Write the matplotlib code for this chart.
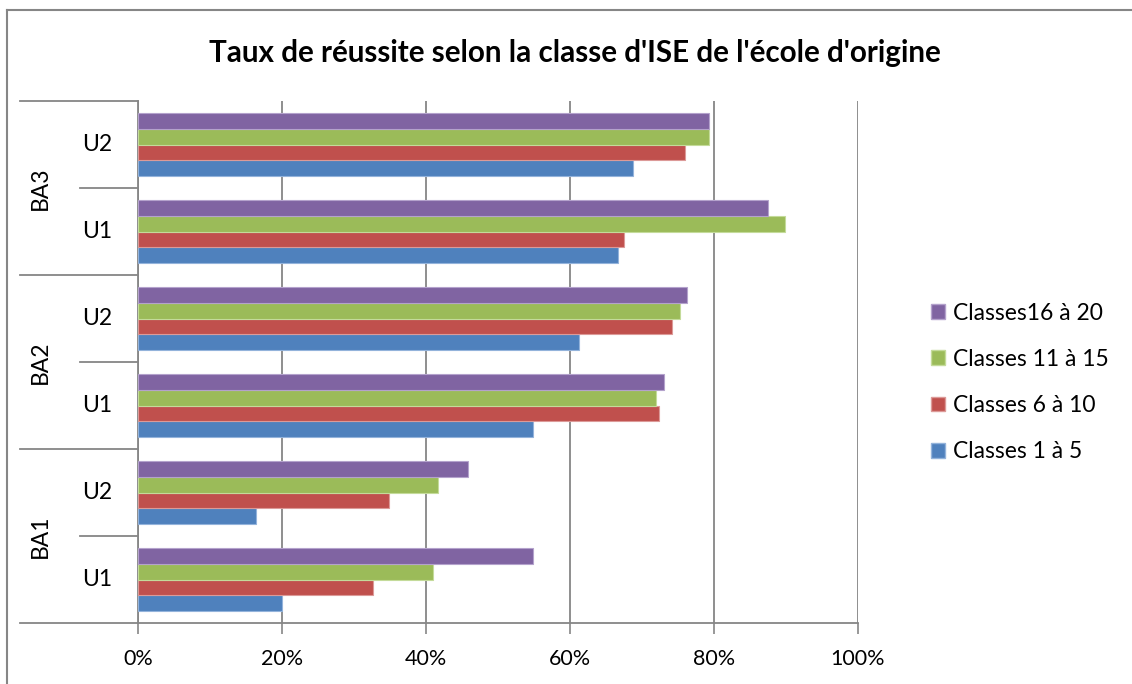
import matplotlib.pyplot as plt
import matplotlib.transforms as mtransforms
from matplotlib.patches import Patch
import numpy as np

plt.rcParams['font.family'] = ['Lato', 'DejaVu Sans']

# categories, bottom to top
groups = ['BA1', 'BA2', 'BA3']
units = ['U1', 'U2', 'U1', 'U2', 'U1', 'U2']

series = ['Classes 1 à 5', 'Classes 6 à 10', 'Classes 11 à 15', 'Classes16 à 20']
classes_1_5 = [20.0, 16.4, 54.9, 61.3, 66.7, 68.7]
classes_6_10 = [32.7, 34.9, 72.4, 74.1, 67.5, 76.0]
classes_11_15 = [41.0, 41.6, 72.0, 75.3, 89.9, 79.3]
classes_16_20 = [54.9, 45.8, 73.1, 76.3, 87.5, 79.3]
xticks = [0, 20, 40, 60, 80, 100]

colors = ['#4F81BD', '#C0504D', '#9BBB59', '#8064A2']
edges = ['#93B3DB', '#DC9A98', '#C4DB9A', '#B4A2CC']

W, H = 1132, 684
fig = plt.figure(figsize=(W / 100, H / 100), dpi=100)
ax = fig.add_axes([138 / W, 61 / H, 720 / W, 522 / H])

y = np.arange(len(units))
h = 0.181
vals = [classes_1_5, classes_6_10, classes_11_15, classes_16_20]
for i, v in enumerate(vals):
    ax.barh(y + (i - 1.5) * h, v, height=h, color=colors[i],
            edgecolor=edges[i], linewidth=0.8, label=series[i], zorder=3)

ax.set_xlim(0, 100)
ax.set_ylim(-0.5, 5.5)
ax.set_xticks(xticks)
ax.set_xticklabels([f'{t}%' for t in xticks], fontsize=15.5)
ax.tick_params(axis='x', length=8, width=1.2, color='#868686', pad=11)
ax.set_yticks([])
ax.grid(axis='x', color='#868686', linewidth=1.3, zorder=1)
for s in ['top', 'right']:
    ax.spines[s].set_visible(False)
for s in ['left', 'bottom']:
    ax.spines[s].set_color('#868686')
    ax.spines[s].set_linewidth(1.3)

# two-level category axis
tr = mtransforms.blended_transform_factory(ax.transAxes, ax.transData)
x_outer = (20 - 138) / 720
x_inner = (80 - 138) / 720
for b in [-0.5, 1.5, 3.5, 5.5]:
    ax.plot([x_outer, 0], [b, b], color='#868686', lw=1.3, transform=tr, clip_on=False)
for b in [0.5, 2.5, 4.5]:
    ax.plot([x_inner, 0], [b, b], color='#868686', lw=1.3, transform=tr, clip_on=False)
for i, u in enumerate(units):
    ax.text((97 - 138) / 720, i, u, transform=tr, ha='center', va='center', fontsize=16.5)
for g, name in enumerate(groups):
    ax.text((40 - 138) / 720, 2 * g + 0.5, name, transform=tr, ha='center', va='center',
            rotation=90, fontsize=16.5)

ax.set_title("Taux de réussite selon la classe d'ISE de l'école d'origine",
             fontsize=21.3, fontweight='bold', x=(575 - 138) / 720, y=1.0, pad=28)

handles = [Patch(facecolor=colors[i], edgecolor=edges[i]) for i in range(4)][::-1]
fig.legend(handles, series[::-1], loc='upper left', bbox_to_anchor=(910 / W, 1 - 282 / H),
           frameon=False, fontsize=16.5, handlelength=0.62, handleheight=0.62,
           handletextpad=0.35, labelspacing=1.1)

# chart border
fig.add_artist(plt.Line2D([7 / W, 7 / W], [0, 1 - 10 / H], color='#868686', lw=1.5))
fig.add_artist(plt.Line2D([7 / W, 1], [1 - 10 / H, 1 - 10 / H], color='#868686', lw=1.5))

fig.savefig('out.png', dpi=100)
